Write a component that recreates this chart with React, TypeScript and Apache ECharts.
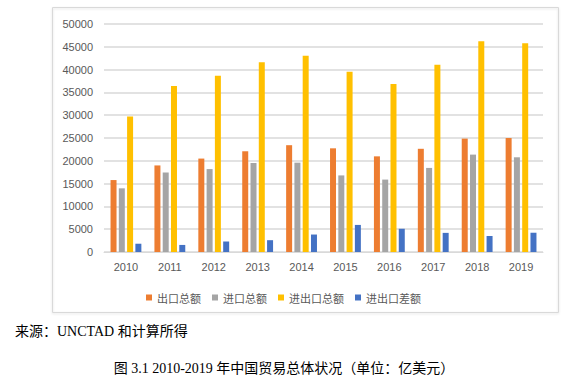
import React, { useEffect, useRef } from "react";
import * as echarts from "echarts";

const years = ["2010", "2011", "2012", "2013", "2014", "2015", "2016", "2017", "2018", "2019"];
const exportTotal = [15778, 18984, 20487, 22090, 23423, 22735, 20976, 22633, 24867, 24995];
const importTotal = [13962, 17435, 18184, 19500, 19592, 16796, 15879, 18438, 21357, 20769];
const tradeTotal = [29740, 36419, 38671, 41590, 43015, 39530, 36855, 41071, 46224, 45764];
const tradeBalance = [1815, 1549, 2303, 2590, 3831, 5939, 5097, 4195, 3509, 4226];
const seriesNames = ["出口总额", "进口总额", "进出口总额", "进出口差额"];
const seriesColors = ["#ED7D31", "#A5A5A5", "#FFC000", "#4472C4"];
const sourceText = "来源：UNCTAD 和计算所得";
const captionText = "图 3.1 2010-2019 年中国贸易总体状况（单位：亿美元）";

export default function App() {
  const ref = useRef<HTMLDivElement>(null);
  useEffect(() => {
    if (!ref.current) return;
    const chart = echarts.init(ref.current, null, { renderer: "svg" });
    const data = [exportTotal, importTotal, tradeTotal, tradeBalance];
    const labelFont = "'Liberation Sans', Arial, sans-serif";
    const serifFont = "'Liberation Serif', 'Noto Sans CJK SC', serif";
    chart.setOption({
      animation: false,
      backgroundColor: "#fff",
      grid: { left: 104, right: 25, top: 24, bottom: 134, containLabel: false },
      legend: {
        left: 141,
        top: 287,
        icon: "rect",
        itemWidth: 6,
        itemHeight: 6,
        itemGap: 11,
        textStyle: { color: "#595959", fontSize: 11, fontFamily: "'Noto Sans CJK SC', sans-serif" },
        data: seriesNames,
      },
      xAxis: {
        type: "category",
        data: years,
        axisLine: { show: true, lineStyle: { color: "#D9D9D9", width: 1 } },
        axisTick: { show: false },
        axisLabel: { color: "#595959", fontSize: 11, fontFamily: labelFont, margin: 9 },
      },
      yAxis: {
        type: "value",
        min: 0,
        max: 50000,
        interval: 5000,
        axisLine: { show: false },
        axisTick: { show: false },
        axisLabel: {
          color: "#595959",
          fontSize: 11,
          fontFamily: labelFont,
          margin: 11,
          formatter: (v: number) => String(v),
        },
        splitLine: { lineStyle: { color: "#D9D9D9", width: 1.5 } },
      },
      series: seriesNames.map((name, i) => ({
        name,
        type: "bar",
        data: data[i],
        barWidth: 6,
        barGap: "38%",
        itemStyle: { color: seriesColors[i] },
      })),
      graphic: [
        {
          type: "rect",
          z: -10,
          silent: true,
          shape: { x: 52.5, y: 7.5, width: 506, height: 305 },
          style: {
            fill: "transparent",
            stroke: "#D9D9D9",
            lineWidth: 1,
            shadowBlur: 2,
            shadowOffsetY: 1,
            shadowColor: "rgba(0,0,0,0.12)",
          },
        },
        {
          type: "text",
          left: 15,
          top: 324,
          style: { text: sourceText, fill: "#000", fontSize: 14, fontFamily: serifFont },
        },
        {
          type: "text",
          x: 284,
          y: 368,
          style: {
            text: captionText,
            fill: "#000",
            fontSize: 14,
            fontFamily: serifFont,
            align: "center",
            verticalAlign: "middle",
          },
        },
      ],
    });
    return () => chart.dispose();
  }, []);
  return (
    <div
      ref={ref}
      style={{ position: "absolute", left: 0, top: 0, width: 568, height: 386 }}
    />
  );
}
